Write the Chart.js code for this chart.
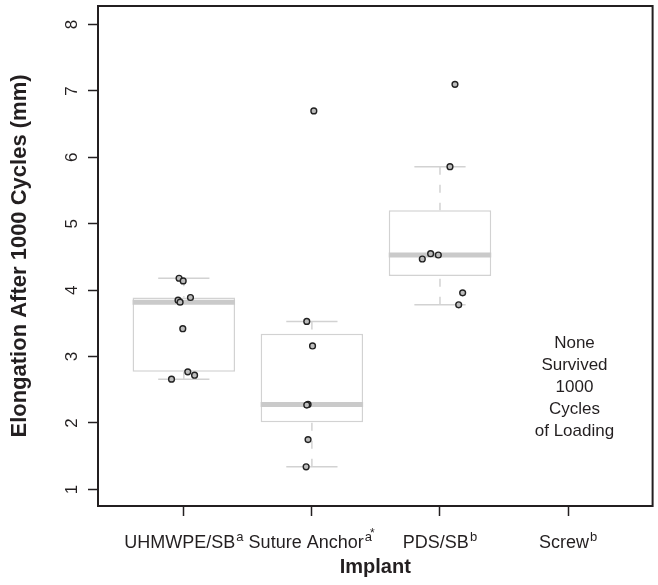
<!DOCTYPE html>
<html>
<head>
<meta charset="utf-8">
<script src="https://cdn.jsdelivr.net/npm/chart.js@4/dist/chart.umd.min.js"></script>
<style>
  html, body { margin: 0; padding: 0; background: #fff; }
  #wrap { width: 658px; height: 585px; }
</style>
</head>
<body>
<div id="wrap"><canvas id="elongChart"></canvas></div>
<script>
// ═══ 데이터 ═══
const groups     = ['UHMWPE/SB', 'Suture Anchor', 'PDS/SB', 'Screw'];
const groupMarks = ['a', 'a*', 'b', 'b'];

// 개별 시편 값 (mm) 과 x 방향 지터 (범주 단위)
const uhmwpeVals    = [4.18, 4.14, 3.89, 3.85, 3.82, 3.42, 2.77, 2.72, 2.66];
const uhmwpeJitter  = [-0.037, -0.005, 0.052, -0.045, -0.029, -0.008, 0.031, 0.084, -0.096];
const anchorVals    = [6.70, 3.53, 3.16, 2.28, 2.27, 1.75, 1.34];
const anchorJitter  = [0.015, -0.040, 0.005, -0.030, -0.040, -0.030, -0.045];
const pdsVals       = [7.10, 5.86, 4.55, 4.53, 4.47, 3.96, 3.78];
const pdsJitter     = [0.117, 0.078, -0.073, -0.013, -0.138, 0.177, 0.146];
const screwVals     = [];

const groupVals   = [uhmwpeVals, anchorVals, pdsVals, screwVals];
const groupJitter = [uhmwpeJitter, anchorJitter, pdsJitter, []];

const noteLines = ['None', 'Survived', '1000', 'Cycles', 'of Loading'];
const noteX = 4.05, noteY = 2.54;

const INK = '#231f20';
const BOX_GRAY = '#d2d2d2';
const FONT = "'Liberation Sans', Arial, sans-serif";

// R 의 fivenum / boxplot.stats 방식
function fivenum(v) {
    const s = [...v].sort((a, b) => a - b);
    const n = s.length;
    const n4 = Math.floor((n + 3) / 2) / 2;
    const d = [1, n4, (n + 1) / 2, n + 1 - n4, n];
    return d.map(x => 0.5 * (s[Math.floor(x) - 1] + s[Math.ceil(x) - 1]));
}
function boxStats(v) {
    const f = fivenum(v);
    const iqr = f[3] - f[1];
    const inside = v.filter(x => x >= f[1] - 1.5 * iqr && x <= f[3] + 1.5 * iqr);
    return { lo: Math.min(...inside), q1: f[1], med: f[2], q3: f[3], hi: Math.max(...inside) };
}

const stats = groupVals.map(v => v.length ? boxStats(v) : null);

// ═══ 데이터셋 구성 ═══
const boxData = [], medData = [], whiskData = [], capData = [], ptData = [];
stats.forEach((st, i) => {
    const c = i + 1;
    if (st) {
        boxData.push({ x: c, y: [st.q1, st.q3] });
        medData.push({ x: c - 0.4, y: st.med }, { x: c + 0.4, y: st.med }, { x: c, y: null });
        whiskData.push({ x: c, y: st.hi }, { x: c, y: st.q3 }, { x: c, y: null });
        whiskData.push({ x: c, y: st.lo }, { x: c, y: st.q1 }, { x: c, y: null });
        capData.push({ x: c - 0.2, y: st.hi }, { x: c + 0.2, y: st.hi }, { x: c, y: null });
        capData.push({ x: c - 0.2, y: st.lo }, { x: c + 0.2, y: st.lo }, { x: c, y: null });
    }
    groupVals[i].forEach((v, k) => ptData.push({ x: c + groupJitter[i][k], y: v }));
});

// ═══ 플러그인: 테두리, x 라벨(위첨자), 주석 ═══
const decoPlugin = {
    id: 'deco',
    afterDraw(chart) {
        const { ctx, chartArea: a, scales: { x, y } } = chart;
        ctx.save();
        ctx.strokeStyle = INK;
        ctx.lineWidth = 2;
        ctx.strokeRect(a.left, a.top, a.right - a.left, a.bottom - a.top);

        ctx.fillStyle = INK;
        ctx.textBaseline = 'alphabetic';
        const base = '18px ' + FONT, sup = '13px ' + FONT, star = '12px ' + FONT;
        groups.forEach((g, i) => {
            ctx.font = base;
            const wBase = ctx.measureText(g).width;
            const mark = groupMarks[i];
            ctx.font = sup;
            const wSup = ctx.measureText(mark[0]).width;
            ctx.font = star;
            const wStar = mark.length > 1 ? ctx.measureText('*').width * 0.7 : 0;
            const total = wBase + 1 + wSup + wStar;
            let px = x.getPixelForValue(i + 1) - total / 2;
            const by = a.bottom + 42;
            ctx.textAlign = 'left';
            ctx.font = base;
            ctx.fillText(g, px, by);
            px += wBase + 1;
            ctx.font = sup;
            ctx.fillText(mark[0], px, by - 7);
            if (mark.length > 1) {
                ctx.font = star;
                ctx.fillText('*', px + wSup - 2, by - 11);
            }
        });

        ctx.font = '17px ' + FONT;
        ctx.textAlign = 'center';
        ctx.textBaseline = 'middle';
        const nx = x.getPixelForValue(noteX);
        const ny = y.getPixelForValue(noteY);
        noteLines.forEach((t, k) => {
            ctx.fillText(t, nx, ny + (k - (noteLines.length - 1) / 2) * 22);
        });
        ctx.restore();
    }
};

Chart.defaults.font.family = FONT;
Chart.defaults.color = INK;

new Chart(document.getElementById('elongChart').getContext('2d'), {
    type: 'bar',
    data: {
        datasets: [
            {
                type: 'scatter', data: ptData, order: 0,
                pointRadius: 2.9, pointBorderWidth: 1.4,
                pointBorderColor: '#222', pointBackgroundColor: '#bdbdbd'
            },
            {
                type: 'line', data: medData, order: 1,
                borderColor: '#cacaca', borderWidth: 5, pointRadius: 0, spanGaps: false
            },
            {
                type: 'line', data: capData, order: 2,
                borderColor: BOX_GRAY, borderWidth: 1.5, pointRadius: 0, spanGaps: false
            },
            {
                type: 'line', data: whiskData, order: 3,
                borderColor: BOX_GRAY, borderWidth: 1.5, borderDash: [8, 10], pointRadius: 0, spanGaps: false
            },
            {
                type: 'bar', data: boxData, order: 4,
                backgroundColor: '#ffffff', borderColor: BOX_GRAY, borderWidth: 1.5,
                borderSkipped: false, barPercentage: 1, categoryPercentage: 0.8
            }
        ]
    },
    options: {
        responsive: true,
        maintainAspectRatio: false,
        animation: false,
        layout: { padding: { left: 0, right: 5, top: 6, bottom: 0 } },
        plugins: { legend: { display: false }, tooltip: { enabled: false } },
        scales: {
            x: {
                type: 'linear', min: 0.33, max: 4.66, offset: false,
                afterFit: s => { s.height = 79; s.paddingLeft = 0; s.paddingRight = 0; },
                ticks: { stepSize: 1, includeBounds: false, display: false },
                grid: { offset: false, drawOnChartArea: false, tickLength: 10, tickColor: INK, tickWidth: 1.5 },
                border: { display: false },
                title: { display: true, text: 'Implant', font: { size: 20, weight: 'bold' }, color: INK, padding: { bottom: 6 } }
            },
            y: {
                type: 'linear', min: 0.75, max: 8.28,
                afterFit: s => { s.width = 98; s.paddingTop = 0; s.paddingBottom = 0; },
                ticks: {
                    stepSize: 1, includeBounds: false, minRotation: 90, maxRotation: 90,
                    crossAlign: 'center', padding: 11, font: { size: 17 }, color: INK
                },
                grid: { drawOnChartArea: false, tickLength: 10, tickColor: INK, tickWidth: 1.5 },
                border: { display: false },
                title: {
                    display: true, text: 'Elongation After 1000 Cycles (mm)',
                    font: { size: 22, weight: 'bold' }, color: INK, padding: { top: 7 }
                }
            }
        }
    },
    plugins: [decoPlugin]
});
</script>
</body>
</html>
